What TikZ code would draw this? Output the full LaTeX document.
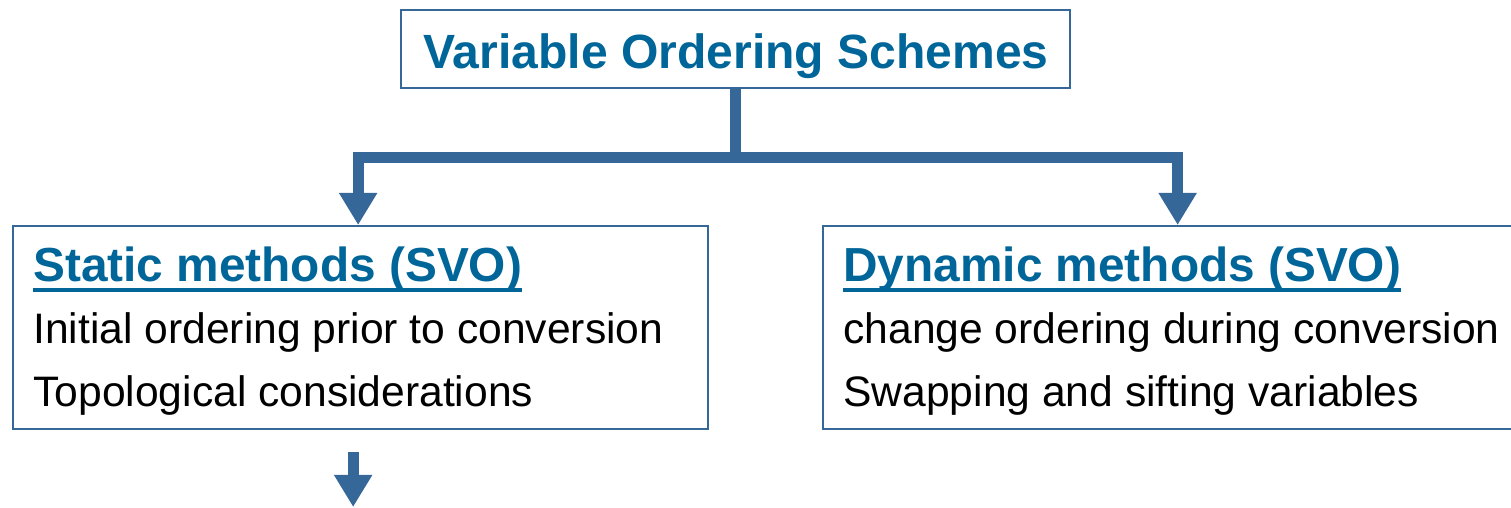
\documentclass[tikz,border=0pt]{standalone}
\usepackage{fontspec}
\setmainfont{Liberation Sans}
\usepackage{tikz}
\usetikzlibrary{arrows.meta, calc, positioning}

\definecolor{linkblue}{RGB}{0,102,153}
\definecolor{wireblue}{RGB}{54,103,153}

\begin{document}
\begin{tikzpicture}[
    box/.style={draw=wireblue, line width=1.3pt, rectangle, inner sep=0pt},
    heading/.style={font=\fontsize{27.2}{32}\selectfont\bfseries, text=linkblue, inner sep=0pt},
    item/.style={font=\fontsize{24.25}{29}\selectfont, inner sep=0pt},
    underbar/.style={draw=linkblue, line width=2.5pt},
    bus/.style={draw=wireblue, line width=6.2pt},
    feed/.style={bus, -{Triangle[length=0.64cm, width=0.72cm]}}
]
    \useasboundingbox (0,0) rectangle (30.22,10.16);

    % Boxes
    \node[box, minimum width=13.38cm, minimum height=1.56cm] (root) at (14.71, 9.18) {};
    \node[box, minimum width=13.9cm, minimum height=4.06cm, anchor=north west] (stat) at (0.24, 5.66) {};
    \node[box, minimum width=13.9cm, minimum height=4.06cm, anchor=north west] (dyn) at (16.44, 5.66) {};

    % Titles
    \node[heading, anchor=base] (rootlbl) at ($(root.south)+(0.01,0.42)$) {\fontsize{27.35}{32}\selectfont Variable Ordering Schemes};
    \node[heading, anchor=base west] (stathead) at ($(stat.north west)+(0.42,-1.14)$) {Static methods (SVO)};
    \node[heading, anchor=base west] (dynhead) at ($(dyn.north west)+(0.42,-1.14)$) {Dynamic methods (SVO)};

    % Underlines of the headings
    \draw[underbar] ($(stathead.base west)+(0,-0.16)$) -- ($(stathead.base east)+(0,-0.16)$);
    \draw[underbar] ($(dynhead.base west)+(0,-0.16)$) -- ($(dynhead.base east)+(0,-0.16)$);

    % Items
    \node[item, anchor=base west] (stat1) at ($(stat.north west)+(0.42,-2.38)$) {Initial ordering prior to conversion};
    \node[item, anchor=base west] (stat2) at ($(stat.north west)+(0.42,-3.63)$) {Topological considerations};
    \node[item, anchor=base west] (dyn1) at ($(dyn.north west)+(0.42,-2.38)$) {change ordering during conversion};
    \node[item, anchor=base west] (dyn2) at ($(dyn.north west)+(0.42,-3.63)$) {Swapping and sifting variables};

    % Fork from the root
    \coordinate (fork) at ($(root.south)+(0,-1.36)$);
    \draw[bus] (root.south) -- (fork);
    \draw[feed] (fork) -| ($(stat.north)+(-0.05,0)$);
    \draw[feed] (fork) -| ($(dyn.north)+(0.14,0)$);

    % Continuation below the static box
    \coordinate (out) at ($(stat.south)+(-0.15,-0.44)$);
    \coordinate (next) at (out |- 0,0.02);
    \draw[feed] (out) -- (next);

\end{tikzpicture}
\end{document}
